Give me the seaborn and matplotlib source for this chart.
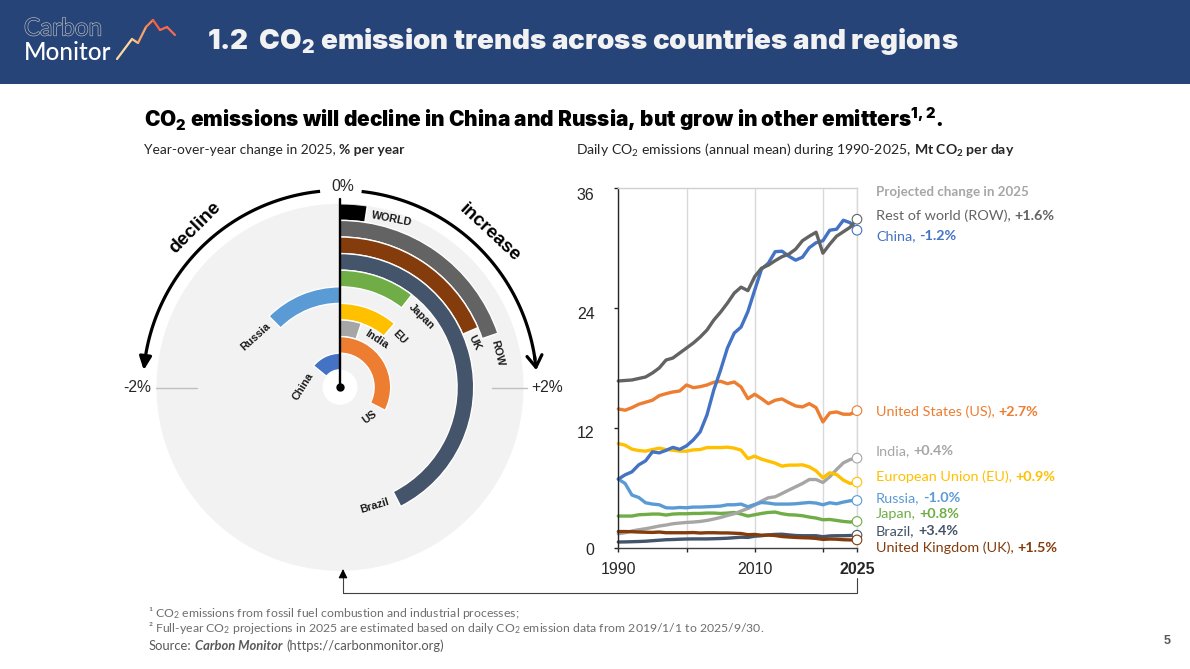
"""
CO2 emission trends: radial year-over-year bars and daily emission lines.
"""

import numpy as np
import pandas as pd
import matplotlib
matplotlib.use("Agg")
import matplotlib.pyplot as plt
import matplotlib.patheffects as pe
from matplotlib.collections import LineCollection
from matplotlib.patches import Rectangle
from matplotlib.transforms import ScaledTranslation
import seaborn as sns


# ── Data ───────────────────────────────────────────────────────────────────────

years = list(range(1990, 2026))

row = [16.7, 16.75, 16.8, 16.95, 17.1, 17.5, 18.0, 18.8, 19.0, 19.5, 20.0, 20.5,
       21.1, 21.8, 22.8, 23.6, 24.5, 25.5, 26.1, 25.75, 27.15, 28.0, 28.3, 28.75,
       29.15, 29.4, 29.9, 30.75, 31.2, 31.6, 29.5, 30.4, 31.2, 31.65, 32.1, 32.9]
china = [6.87, 7.3, 7.6, 8.3, 8.7, 9.6, 9.5, 9.75, 10.05, 9.85, 10.2, 10.8,
         11.6, 13.3, 15.8, 17.8, 20.0, 21.5, 22.1, 23.65, 25.8, 27.9, 28.5, 29.65,
         29.7, 29.2, 28.8, 29.1, 30.05, 30.55, 30.75, 31.8, 31.9, 32.8, 32.55, 31.8]
us = [13.9, 13.77, 14.03, 14.37, 14.57, 14.77, 15.23, 15.43, 15.6, 15.7, 16.3, 16.03,
      16.13, 16.3, 16.57, 16.67, 16.43, 16.6, 16.1, 14.93, 15.37, 14.93, 14.43, 14.77,
      14.9, 14.53, 14.2, 14.1, 14.43, 14.03, 12.6, 13.5, 13.6, 13.37, 13.37, 13.73]
india = [1.4, 1.5, 1.67, 1.8, 1.9, 2.03, 2.17, 2.27, 2.4, 2.47, 2.53, 2.57,
         2.63, 2.73, 2.87, 3.03, 3.23, 3.4, 3.67, 3.93, 4.27, 4.67, 5.0, 5.1,
         5.43, 5.77, 6.1, 6.43, 6.83, 6.83, 6.53, 7.1, 7.83, 8.5, 8.83, 8.97]
eu = [10.43, 10.27, 9.87, 9.73, 9.67, 9.83, 9.97, 9.83, 9.77, 9.67, 9.67, 9.8,
      9.83, 10.03, 10.03, 10.03, 10.07, 9.97, 9.77, 8.93, 9.17, 8.87, 8.67, 8.47,
      8.17, 8.27, 8.27, 8.3, 8.1, 7.7, 7.0, 7.5, 7.33, 6.77, 6.43, 6.57]
russia = [6.87, 6.43, 5.27, 5.03, 4.5, 4.37, 4.3, 4.0, 3.97, 4.03, 4.0, 4.07,
          4.07, 4.1, 4.13, 4.17, 4.3, 4.3, 4.37, 4.1, 4.33, 4.53, 4.47, 4.37,
          4.37, 4.37, 4.4, 4.47, 4.53, 4.47, 4.3, 4.5, 4.4, 4.57, 4.7, 4.73]
japan = [3.17, 3.17, 3.17, 3.3, 3.33, 3.37, 3.37, 3.27, 3.37, 3.4, 3.4, 3.43,
         3.43, 3.47, 3.47, 3.43, 3.47, 3.53, 3.37, 3.17, 3.3, 3.43, 3.53, 3.57,
         3.4, 3.3, 3.27, 3.2, 3.07, 2.97, 2.8, 2.83, 2.73, 2.63, 2.57, 2.63]
brazil = [0.57, 0.58, 0.6, 0.62, 0.65, 0.7, 0.75, 0.8, 0.82, 0.85, 0.87, 0.88,
          0.88, 0.88, 0.9, 0.92, 0.95, 1.0, 1.05, 1.03, 1.15, 1.2, 1.28, 1.33,
          1.35, 1.28, 1.22, 1.2, 1.2, 1.2, 1.1, 1.18, 1.2, 1.2, 1.22, 1.25]
uk = [1.62, 1.62, 1.6, 1.57, 1.55, 1.53, 1.57, 1.5, 1.5, 1.5, 1.5, 1.52,
      1.47, 1.5, 1.5, 1.48, 1.48, 1.45, 1.42, 1.3, 1.33, 1.25, 1.27, 1.22,
      1.12, 1.07, 1.03, 1.0, 0.98, 0.93, 0.83, 0.87, 0.85, 0.8, 0.78, 0.78]

# radial bars, outermost track first
track_names = ["WORLD", "ROW", "UK", "Brazil", "Japan", "Russia", "EU", "India", "US", "China"]
track_change = [0.19, 1.58, 1.48, 3.4, 0.84, -1.0, 0.9, 0.41, 2.6, -1.13]

colors = {
    "WORLD": "#000000", "ROW": "#636363", "UK": "#843C0C", "Brazil": "#44546A",
    "Japan": "#70AD47", "Russia": "#5B9BD5", "EU": "#FFC000", "India": "#A6A6A6",
    "US": "#ED7D31", "China": "#4472C4",
}

series = {"Brazil": brazil, "Japan": japan, "India": india, "Russia": russia, "EU": eu,
          "US": us, "China": china, "ROW": row, "UK": uk}

# (key, name, projected change, label y in px)
end_labels = [
    ("ROW", "Rest of world (ROW),", "+1.6%", 216),
    ("China", "China,", "-1.2%", 236),
    ("US", "United States (US),", "+2.7%", 412),
    ("India", "India,", "+0.4%", 451),
    ("EU", "European Union (EU),", "+0.9%", 477),
    ("Russia", "Russia,", "-1.0%", 498),
    ("Japan", "Japan,", "+0.8%", 514),
    ("Brazil", "Brazil,", "+3.4%", 531),
    ("UK", "United Kingdom (UK),", "+1.5%", 548),
]

# (text, x px, y px, rotation)
track_labels = [
    ("WORLD", 391.5, 219, -11), ("ROW", 497, 353, -76), ("UK", 475, 343, -64),
    ("Japan", 421.5, 316.5, -45), ("EU", 399.5, 337, -45), ("India", 377, 339, -33),
    ("US", 369.5, 417.5, 36), ("Brazil", 375, 505.5, 17), ("China", 303.5, 386.5, 58),
    ("Russia", 255.5, 336.5, 42),
]

logo_x = [117, 132, 138, 146, 153, 160, 167, 175]
logo_y = [59, 39, 43, 27, 20, 30, 27, 35]

W, H = 1190, 669
BODY = "Lato"
NUM = "Liberation Sans"
HEAVY = "Inter"
DEG_PER_PCT = 45
TRACK_PX = 16.6
DISK_R = 183.5
CX, CY = 340, 387.3


# ── Setup ──────────────────────────────────────────────────────────────────────

sns.set_theme(style="white")
plt.rcParams["font.family"] = [BODY, "DejaVu Sans"]
plt.rcParams["mathtext.default"] = "regular"

fig = plt.figure(figsize=(W / 100, H / 100), dpi=100, facecolor="white")
renderer = fig.canvas.get_renderer()

ov = fig.add_axes([0, 0, 1, 1], zorder=5)
ov.set_xlim(0, W)
ov.set_ylim(H, 0)
ov.axis("off")


def text_runs(x, y, runs, size, color="#262626", family=BODY, gap=3.5):
    """Write (text, weight) pieces one after the other from x, on one baseline."""
    for run in runs:
        t = ov.text(x, y + 4, run[0], fontsize=size, fontweight=run[1], family=family,
                    color=color, va="baseline", ha="left")
        x += t.get_window_extent(renderer).width + gap
    return x


# ── Header and headings ────────────────────────────────────────────────────────

ov.add_patch(Rectangle((0, 0), W, 84, color="#264478", lw=0, zorder=0))
ov.text(24, 29, "Carbon", fontsize=17.5, family=BODY, color="#264478", va="center",
        path_effects=[pe.withStroke(linewidth=0.9, foreground="#BFBFBF")])
ov.text(24, 52.5, "Monitor", fontsize=17.5, family=BODY, fontweight=500, color="white", va="center")
pts = np.column_stack([logo_x, logo_y]).reshape(-1, 1, 2)
segs = np.concatenate([pts[:-1], pts[1:]], axis=1)
ov.add_collection(LineCollection(segs, linewidths=1.6, capstyle="round",
                                 colors=["#FDD9A0", "#FBC38A", "#F9A36C", "#F98050",
                                         "#F85F45", "#F66A50", "#F56A50"]))

ov.text(207, 41.5, "1.2  CO$_2$ emission trends across countries and regions", fontsize=20,
        fontweight=900, family=HEAVY, color="#F2F2F2", va="center")
ov.text(144, 119, "CO$_2$ emissions will decline in China and Russia, but grow in other emitters$^{1,2}$.",
        fontsize=15, fontweight=900, family=HEAVY, color="black", va="center")

text_runs(144, 150.5, [("Year-over-year change in 2025,", "normal"), ("% per year", "bold")], 9.9)
text_runs(576, 150.5, [("Daily CO$_2$ emissions (annual mean) during 1990-2025,", "normal"),
                       ("Mt CO$_2$ per day", "bold")], 10.05)


# ── Radial bars ────────────────────────────────────────────────────────────────

pol = fig.add_axes([(CX - DISK_R) / W, 1 - (CY + DISK_R) / H, 2 * DISK_R / W, 2 * DISK_R / H],
                   projection="polar", zorder=1)
pol.set_theta_zero_location("N")
pol.set_theta_direction(-1)
pol.set_ylim(0, DISK_R / TRACK_PX)
pol.set_facecolor("#F2F2F2")
pol.grid(False)
pol.set_xticks([])
pol.set_yticks([])
pol.spines["polar"].set_visible(False)

r_hole = (DISK_R - TRACK_PX * len(track_names)) / TRACK_PX
pol.bar(0, r_hole, width=2 * np.pi, bottom=0, color="white", lw=0)
for i, (name, change) in enumerate(zip(track_names, track_change)):
    start = np.deg2rad(min(change, 0) * DEG_PER_PCT)
    pol.bar(start, 1, width=np.deg2rad(abs(change) * DEG_PER_PCT), align="edge",
            bottom=DISK_R / TRACK_PX - 1 - i, color=colors[name], edgecolor="white", lw=1.0)

# needle from the centre to 0%
pol.plot([0, 0], [0, 188 / TRACK_PX], color="black", lw=1.7, clip_on=False, zorder=6)
pol.plot([0], [0], "o", color="black", ms=5, clip_on=False, zorder=6)

# decline / increase arcs
r_arc = 197 / TRACK_PX
for a, b, head in [(6.3, 82, "->,head_length=0.7,head_width=0.45"),
                   (-5.8, -82, "-|>,head_length=0.65,head_width=0.3")]:
    th = np.deg2rad(np.linspace(a, b, 60))
    pol.plot(th, np.full_like(th, r_arc), color="black", lw=2.3, clip_on=False, solid_capstyle="butt")
    tip = np.sign(b) * 85
    pol.annotate("", xy=(np.deg2rad(tip), r_arc), xytext=(np.deg2rad(b - np.sign(b) * 1), r_arc),
                 annotation_clip=False,
                 arrowprops=dict(arrowstyle=head, color="black", lw=2.3, shrinkA=0, shrinkB=0))

for text, x, y, rot in track_labels:
    ov.text(x, y, text, fontsize=7.8, fontweight="bold", family=NUM, color="#1A1A1A",
            rotation=rot, rotation_mode="anchor", ha="center", va="center")
ov.text(195, 228, "decline", fontsize=13.6, fontweight="bold", family=NUM, color="black",
        rotation=45, rotation_mode="anchor", ha="center", va="center")
ov.text(490, 233, "increase", fontsize=13.6, fontweight="bold", family=NUM, color="black",
        rotation=-43, rotation_mode="anchor", ha="center", va="center")

ov.text(342.5, 186.5, "0%", fontsize=11.3, family=NUM, color="#262626", ha="center", va="center")
ov.text(137.5, 388, "-2%", fontsize=11.3, family=NUM, color="#262626", ha="center", va="center")
ov.text(547, 388, "+2%", fontsize=11.3, family=NUM, color="#262626", ha="center", va="center")
ov.plot([156, 197], [387.5, 387.5], color="#BFBFBF", lw=1)
ov.plot([492, 527], [387.5, 387.5], color="#BFBFBF", lw=1)

# connector between the two panels
ov.plot([343, 343, 857, 857], [576, 593, 593, 578], color="#404040", lw=0.8)
ov.annotate("", xy=(343, 569), xytext=(343, 577),
            arrowprops=dict(arrowstyle="-|>,head_length=0.45,head_width=0.22", color="black", lw=0.8,
                            shrinkA=0, shrinkB=0))


# ── Emission lines ─────────────────────────────────────────────────────────────

ax = fig.add_axes([618.3 / W, 1 - 547.7 / H, (857 - 618.3) / W, (547.7 - 188.3) / H], zorder=2)
df = pd.DataFrame(series, index=years).rename_axis("year").reset_index()
df = df.melt(id_vars="year", var_name="region", value_name="emissions")
sns.lineplot(data=df, x="year", y="emissions", hue="region", hue_order=list(series),
             palette=colors, lw=2.4, errorbar=None, legend=False, ax=ax, clip_on=False)

last = df[df["year"] == years[-1]]
sns.scatterplot(data=last, x="year", y="emissions", hue="region", hue_order=list(series),
                palette=colors, legend=False, ax=ax, s=48, facecolor="white", clip_on=False, zorder=5)
for coll in ax.collections:
    coll.set_edgecolor(coll.get_facecolor())
    coll.set_facecolor("white")
    coll.set_linewidth(0.8)

ax.set_xlim(1990, 2025)
ax.set_ylim(0, 36)
ax.set_xlabel("")
ax.set_ylabel("")
ax.set_xticks([1990, 2000, 2010, 2020, 2025], ["1990", "", "2010", "", "2025"])
ax.set_yticks([0, 12, 24, 36])
ax.grid(axis="x", color="#D9D9D9", lw=1)
ax.set_axisbelow(True)
ax.tick_params(axis="both", length=3, width=1, color="#262626", bottom=True, left=True,
               labelsize=11.5, labelcolor="#262626")
ax.tick_params(axis="x", pad=7.5)
ax.tick_params(axis="y", pad=14)
for lab in ax.get_xticklabels() + ax.get_yticklabels():
    lab.set_family(NUM)
# the y labels sit a little under their ticks, more so near the top
for lab, drop in zip(ax.get_yticklabels(), [1, 4, 5, 6]):
    lab.set_transform(lab.get_transform() + ScaledTranslation(0, -drop / 100, fig.dpi_scale_trans))
ax.get_xticklabels()[-1].set_fontweight("bold")
ax.spines["left"].set_color("#262626")
ax.spines["bottom"].set_color("#404040")
ax.spines["top"].set_color("#D0D0D0")
ax.spines["right"].set_color("#D9D9D9")
for s in ax.spines.values():
    s.set_linewidth(1)

ov.text(876, 196, "Projected change in 2025", fontsize=9.6, fontweight="bold", family=BODY,
        color="#A6A6A6", va="baseline")
for key, name, change, y in end_labels:
    text_runs(876, y, [(name, "normal"), (change, "bold")], 10.4, color=colors[key])


# ── Footnotes ──────────────────────────────────────────────────────────────────

FOOT = "#6E6E6E"
ov.text(148, 613, "¹ CO$_2$ emissions from fossil fuel combustion and industrial processes;",
        fontsize=8.8, family=BODY, color=FOOT, va="center")
ov.text(148, 628.5, "² Full-year CO$_2$ projections in 2025 are estimated based on daily CO$_2$ emission "
        "data from 2019/1/1 to 2025/9/30.", fontsize=8.8, family=BODY, color=FOOT, va="center")
x = text_runs(149, 646, [("Source:", "normal")], 9.4, color="#595959")
t = ov.text(x, 650, "Carbon Monitor", fontsize=9.4, fontweight="bold", fontstyle="italic",
            family=BODY, color="#595959", va="baseline")
ov.text(x + t.get_window_extent(renderer).width + 3.5, 650, "(https://carbonmonitor.org)",
        fontsize=9.4, family=BODY, color="#595959", va="baseline")
ov.text(1167, 641, "5", fontsize=9, fontweight="bold", family=NUM, color="#595959",
        ha="center", va="center")

fig.savefig("out.png", dpi=100)
